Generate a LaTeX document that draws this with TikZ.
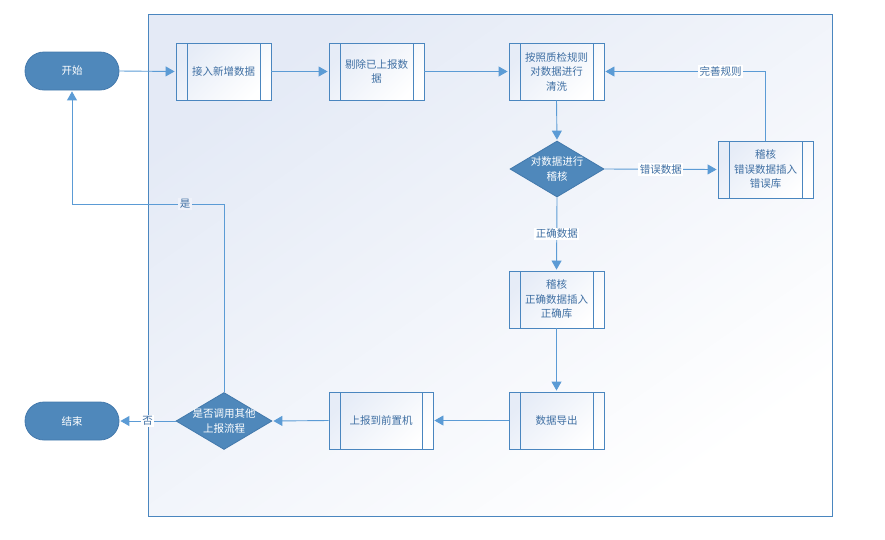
\documentclass[tikz,border=0pt]{standalone}
\usepackage{fontspec}
\setmainfont{Noto Sans CJK SC}
\usetikzlibrary{shapes.geometric,shapes.misc,arrows.meta}
\definecolor{lineblue}{HTML}{5B9BD5}
\definecolor{boxblue}{HTML}{4A86BF}
\definecolor{fillblue}{HTML}{4F88BB}
\definecolor{textblue}{HTML}{3F6FA3}
\definecolor{framebg}{HTML}{E4EAF6}
\definecolor{boxbg}{HTML}{E6ECF7}
\tikzset{
  procbox/.style={draw=boxblue, line width=0.9pt, minimum width=95pt, minimum height=57pt,
    inner sep=0pt, align=center, text=textblue, top color=boxbg, bottom color=white, shading angle=45,
    path picture={
      \draw[boxblue,line width=0.9pt]
        ([xshift=11pt]path picture bounding box.north west) -- ([xshift=11pt]path picture bounding box.south west)
        ([xshift=-11pt]path picture bounding box.north east) -- ([xshift=-11pt]path picture bounding box.south east);
    }},
  terminal/.style={rounded rectangle, draw=boxblue!90!black, fill=fillblue, text=white,
    line width=0.8pt, minimum width=94pt, minimum height=38pt, inner sep=0pt},
  decision/.style={diamond, draw=boxblue!90!black, fill=fillblue, line width=0.8pt, inner sep=0pt},
  dtext/.style={text=white, align=center, inner sep=0pt},
  arrow/.style={draw=lineblue, line width=0.9pt, shorten >=1pt, -{Triangle[length=9pt,width=10pt]}},
  elabel/.style={fill=white, text=textblue, inner sep=1.5pt},
}
\begin{document}
\begin{tikzpicture}[x=1pt,y=-1pt,font=\fontsize{10.5}{14.5}\selectfont]
\useasboundingbox (0,0) rectangle (885,539);
% frame
\draw[boxblue, line width=0.9pt, top color=framebg, bottom color=white, shading angle=35] (148,14) rectangle (832,516);

% nodes
\node[terminal] (start) at (72,71) {开始};
\node[terminal] (stop) at (72,421) {结束};
\node[procbox] (b1) at (223.5,71.5) {接入新增数据};
\node[procbox] (b2) at (376.5,71.5) {剔除已上报数\\据};
\node[procbox] (b3) at (556.5,71.5) {按照质检规则\\对数据进行\\清洗};
\node[decision, minimum width=94pt, minimum height=56pt] (d1) at (557,169) {};
\node[dtext] at (d1.center) {对数据进行\\稽核};
\node[procbox] (err) at (765.5,169.5) {稽核\\错误数据插入\\错误库};
\node[procbox] (ok) at (556.5,299.5) {稽核\\正确数据插入\\正确库};
\node[procbox] (exp) at (556.5,420.5) {数据导出};
\node[procbox, minimum width=104pt] (rep) at (381,420.5) {上报到前置机};
\node[decision, minimum width=96pt, minimum height=57pt] (d2) at (224,421) {};
\node[dtext] at (d2.center) {是否调用其他\\上报流程};
\coordinate (yes) at (224,204);

% connectors
\draw[arrow] (start.east) -- (b1.west);
\draw[arrow] (b1.east) -- (b2.west);
\draw[arrow] (b2.east) -- (b3.west);
\draw[arrow] (b3.south) -- (d1.north);
\draw[arrow] (d1.east) -- node[elabel] {错误数据} (err.west);
\draw[arrow] (err.north) |- node[elabel, pos=0.639] {完善规则} (b3.east);
\draw[arrow] (d1.south) -- node[elabel] {正确数据} (ok.north);
\draw[arrow] (ok.south) -- (exp.north);
\draw[arrow] (exp.west) -- (rep.east);
\draw[arrow] (rep.west) -- (d2.east);
\draw[arrow] (d2.west) -- node[elabel] {否} (stop.east);
\draw[arrow] (d2.north) -- (yes) -| node[elabel, pos=0.128, fill=framebg!60!white] {是} (start.south);
\end{tikzpicture}
\end{document}
